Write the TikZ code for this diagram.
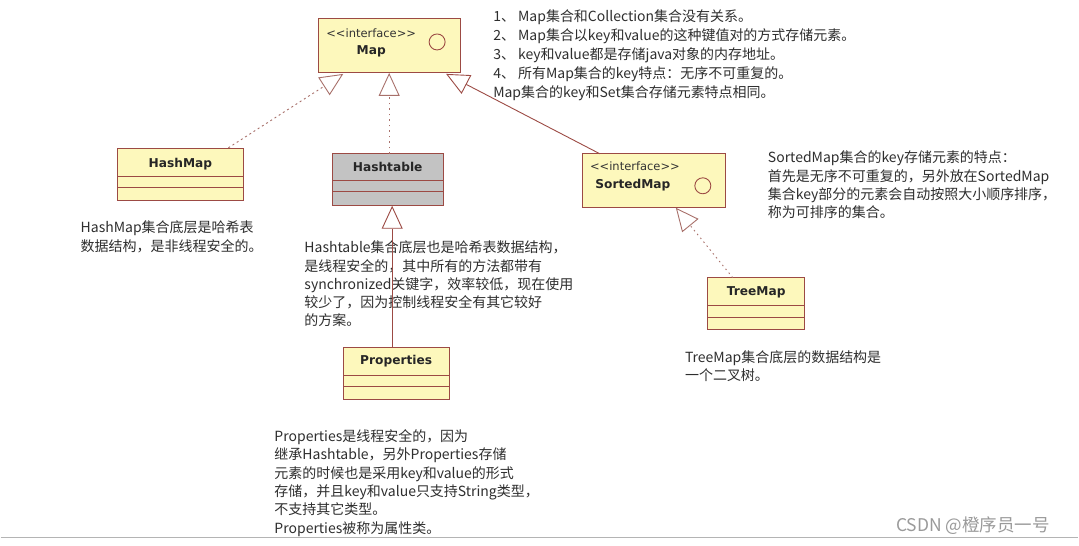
\documentclass[tikz,border=0pt]{standalone}
\usepackage{fontspec}
\usepackage{xcolor}
\usetikzlibrary{arrows.meta,positioning,calc}
\newfontfamily\cjk{Noto Sans CJK SC}
\newfontfamily\umlfont{DejaVu Sans}
\definecolor{ink}{HTML}{2E2E2E}
\definecolor{boxfill}{HTML}{FDF8BC}
\definecolor{boxedge}{HTML}{9C4A44}
\definecolor{linkedge}{HTML}{A8706A}
\definecolor{tablefill}{HTML}{C3C3C3}
\definecolor{mark}{HTML}{9A9A9A}
\definecolor{rule}{HTML}{B4B4B4}

\begin{document}
\begin{tikzpicture}[
  x=1pt,y=-1pt,
  classbox/.style={draw=boxedge,fill=boxfill,line width=1pt,minimum height=52,anchor=north west,inner sep=0,outer sep=0},
  ifacebox/.style={classbox,minimum height=54},
  compart/.style={draw=boxedge,line width=.9pt},
  classname/.style={font=\umlfont\bfseries\fontsize{12.2}{14}\selectfont,text=black!85},
  stereo/.style={font=\umlfont\fontsize{11.5}{14}\selectfont,text=black!80},
  icon/.style={circle,draw=boxedge,line width=.9pt,minimum size=16,inner sep=0},
  note/.style={font=\cjk\fontsize{14}{18.3}\selectfont,text=ink,align=left,anchor=north west,inner sep=0},
  inherit/.style={draw=boxedge,line width=.9pt,-{Triangle[open,length=23pt,width=21pt,fill=white]}},
  realize/.style={inherit,draw=linkedge,dash pattern=on 2pt off 3pt}
]
\fill[white] (0,0) rectangle (1079,546);

% Map interface
\node[ifacebox,minimum width=142] (map) at (318,19) {};
\node[stereo] (mapstereo) at (371,33) {<{}<interface>{}>};
\node[classname] (mapname) at (371,51) {Map};
\node[icon] (mapicon) at (437,42) {};
\node[note,font=\cjk\fontsize{14}{18.8}\selectfont] (maprules) at (493,10) {1、 Map集合和Collection集合没有关系。\\
2、 Map集合以key和value的这种键值对的方式存储元素。\\
3、 key和value都是存储java对象的内存地址。\\
4、 所有Map集合的key特点：无序不可重复的。\\
Map集合的key和Set集合存储元素特点相同。};

% HashMap
\node[classbox,minimum width=126] (hashmap) at (117,149) {};
\node[classname] at ($(hashmap.north)+(0,15)$) {HashMap};
\draw[compart] ($(hashmap.north west)+(0,28)$) -- ($(hashmap.north east)+(0,28)$);
\draw[compart] ($(hashmap.north west)+(0,39)$) -- ($(hashmap.north east)+(0,39)$);
\node[note] (hashmapnote) at (80,221) {HashMap集合底层是哈希表\\数据结构，是非线程安全的。};

% Hashtable
\node[classbox,fill=tablefill,minimum width=111] (hashtable) at (332,154) {};
\node[classname] at ($(hashtable.north)+(0,13)$) {Hashtable};
\draw[compart] ($(hashtable.north west)+(0,27)$) -- ($(hashtable.north east)+(0,27)$);
\draw[compart] ($(hashtable.north west)+(0,38)$) -- ($(hashtable.north east)+(0,38)$);
\node[note] (hashtablenote) at (304,241) {Hashtable集合底层也是哈希表数据结构，\\
是线程安全的，其中所有的方法都带有\\
synchronized关键字，效率较低，现在使用\\
较少了，因为控制线程安全有其它较好\\
的方案。};

% SortedMap interface
\node[ifacebox,minimum width=143] (sortedmap) at (583,154) {};
\node[stereo] at (635,166) {<{}<interface>{}>};
\node[classname] at (633,185) {SortedMap};
\node[icon] (sortedicon) at (703,186) {};
\node[note] (sortednote) at (768,151) {SortedMap集合的key存储元素的特点：\\
首先是无序不可重复的，另外放在SortedMap\\
集合key部分的元素会自动按照大小顺序排序，\\
称为可排序的集合。};

% TreeMap
\node[classbox,minimum width=97] (treemap) at (708,278) {};
\node[classname] at ($(treemap.north)+(0,15)$) {TreeMap};
\draw[compart] ($(treemap.north west)+(0,28)$) -- ($(treemap.north east)+(0,28)$);
\draw[compart] ($(treemap.north west)+(0,40)$) -- ($(treemap.north east)+(0,40)$);
\node[note] (treemapnote) at (685,351) {TreeMap集合底层的数据结构是\\一个二叉树。};

% Properties
\node[classbox,minimum width=106] (properties) at (343,348) {};
\node[classname] at ($(properties.north)+(0,14)$) {Properties};
\draw[compart] ($(properties.north west)+(0,28)$) -- ($(properties.north east)+(0,28)$);
\draw[compart] ($(properties.north west)+(0,39)$) -- ($(properties.north east)+(0,39)$);
\node[note] (propnote) at (274,430) {Properties是线程安全的，因为\\
继承Hashtable，另外Properties存储\\
元素的时候也是采用key和value的形式\\
存储，并且key和value只支持String类型，\\
不支持其它类型。\\
Properties被称为属性类。};

% generalization links
\coordinate (propstem) at ($(properties.north)+(-4,0)$);
\draw[realize] ($(hashmap.north east)+(-15,-1)$) -- ($(map.south west)+(25,1)$);
\draw[realize,dash pattern=on 1.5pt off 4pt] (hashtable.north -| map.south) -- (map.south);
\draw[inherit] ($(sortedmap.north west)+(17,0)$) -- ($(map.south east)+(-14,1)$);
\draw[realize,dash pattern=on 1.5pt off 3.5pt] ($(treemap.north west)+(25,0)$) -- ($(sortedmap.south)+(21.5,0)$);
\draw[inherit] (propstem) -- (propstem |- hashtable.south);

% page edge and watermark
\draw[rule,line width=1.2pt] (0,538) -- (1079,538);
\node[font=\cjk\fontsize{17.5}{20}\selectfont,text=mark,anchor=west] (watermark) at (893,526) {CSDN @橙序员一号};
\end{tikzpicture}
\end{document}
